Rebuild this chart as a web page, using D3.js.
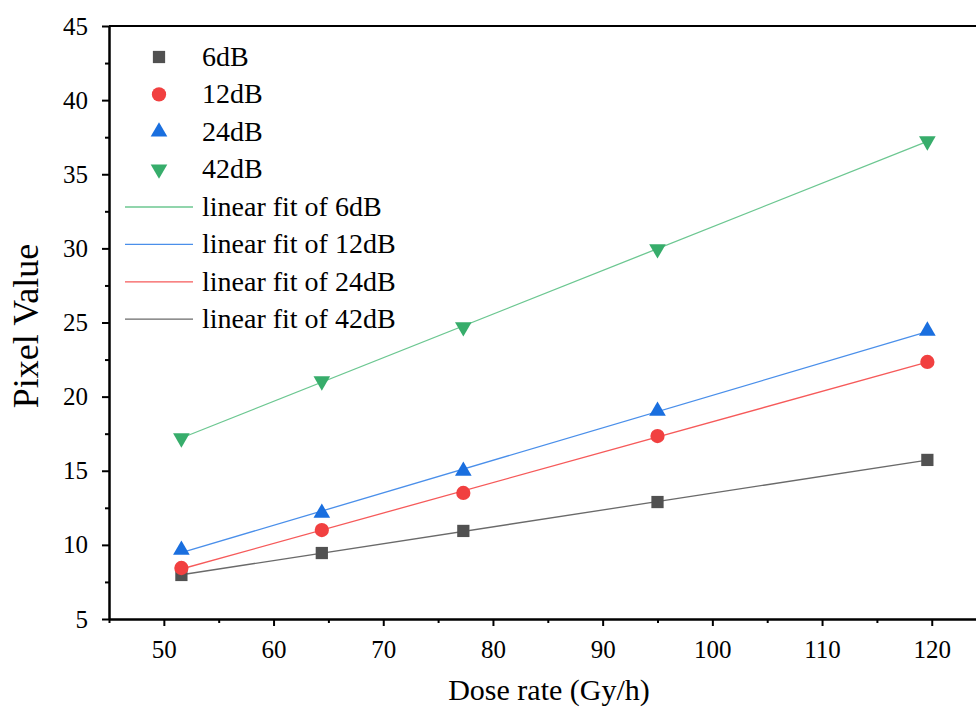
<!DOCTYPE html>
<html>
<head>
<meta charset="utf-8">
<script src="https://cdn.jsdelivr.net/npm/d3@7"></script>
<style>
  body { margin: 0; background: #fff; }
  svg { display: block; }
  svg text { font-family: "Liberation Serif", "Times New Roman", serif !important; }
</style>
</head>
<body>
<svg width="976" height="708"></svg>
<script>
// dose rate values (x) shared by every series
var doseRate = [51.6, 64.4, 77.3, 95.0, 119.6];

// pixel values
var db6  = [7.97, 9.45, 10.94, 12.89, 15.73];
var db12 = [8.44, 11.0, 13.5, 17.34, 22.34];
var db24 = [9.65, 12.15, 14.98, 19.03, 24.43];
var db42 = [17.2, 21.05, 24.7, 29.96, 37.24];

var seriesNames = ["6dB", "12dB", "24dB", "42dB"];
var fitNames = ["linear fit of 6dB", "linear fit of 12dB", "linear fit of 24dB", "linear fit of 42dB"];
var xTicks = [50, 60, 70, 80, 90, 100, 110, 120];
var yTicks = [5, 10, 15, 20, 25, 30, 35, 40, 45];

var app = {};

app.main = (function(){

  var colors = ["#515151", "#F14040", "#1A6FDF", "#37AD6B"];
  // fit line colours in legend order (the "6dB" fit label is green, etc.)
  var fitColors = ["#6cc791", "#4a8fea", "#f65a5a", "#6a6a6a"];

  function draw(){
    var svg = d3.select("svg");
    var left = 109, top = 26, bottom = 619;

    var x = d3.scaleLinear().domain([45, 125]).range([left, left + 80 * 10.97]);
    var y = d3.scaleLinear().domain([5, 45]).range([bottom, top]);

    var series = [db6, db12, db24, db42];
    var shapes = [d3.symbolSquare, d3.symbolCircle, d3.symbolTriangle, d3.symbolTriangle];
    var sizes = [150, 160, 120, 120];

    // axes, minor ticks in their own groups
    var xMinor = d3.axisBottom(x).tickValues([45, 55, 65, 75, 85, 95, 105, 115])
      .tickSize(4).tickFormat("").tickSizeOuter(0);
    var yMinor = d3.axisLeft(y).tickValues(d3.range(7.5, 45, 5)).tickSize(4).tickFormat("").tickSizeOuter(0);
    var xAxis = d3.axisBottom(x).tickValues(xTicks).tickSize(7).tickSizeOuter(0);
    var yAxis = d3.axisLeft(y).tickValues(yTicks).tickSize(7).tickSizeOuter(0);

    svg.append("g").attr("transform", "translate(0," + bottom + ")").call(xMinor);
    svg.append("g").attr("transform", "translate(" + left + ",0)").call(yMinor);
    var gx = svg.append("g").attr("transform", "translate(0," + bottom + ")").call(xAxis);
    var gy = svg.append("g").attr("transform", "translate(" + left + ",0)").call(yAxis);

    svg.selectAll(".domain").attr("stroke", "#000").attr("stroke-width", 2);
    svg.selectAll(".tick line").attr("stroke", "#000").attr("stroke-width", 2);
    gx.attr("font-family", null).attr("font-size", 25);
    gy.attr("font-family", null).attr("font-size", 25);
    gx.selectAll(".tick text").attr("fill", "#000").attr("y", 21);
    gy.selectAll(".tick text").attr("fill", "#000").attr("x", -21);

    // top frame line
    svg.append("line").attr("x1", left).attr("x2", 976).attr("y1", top).attr("y2", top)
      .attr("stroke", "#000").attr("stroke-width", 2);

    // axis titles
    svg.append("text").attr("x", 549).attr("y", 700).attr("text-anchor", "middle")
      .attr("font-size", 30).text("Dose rate (Gy/h)");
    svg.append("text").attr("transform", "translate(38,326) rotate(-90)").attr("text-anchor", "middle")
      .attr("font-size", 36).text("Pixel Value");

    // linear fits (least squares on each series)
    var line = d3.line().x(function(d){ return x(d[0]); }).y(function(d){ return y(d[1]); });
    series.forEach(function(vals, i){
      var mx = d3.mean(doseRate), my = d3.mean(vals);
      var slope = d3.sum(doseRate, function(d, j){ return (d - mx) * (vals[j] - my); }) /
                  d3.sum(doseRate, function(d){ return (d - mx) * (d - mx); });
      var icpt = my - slope * mx;
      var x0 = d3.min(doseRate), x1 = d3.max(doseRate);
      svg.append("path").datum([[x0, icpt + slope * x0], [x1, icpt + slope * x1]])
        .attr("d", line).attr("fill", "none").attr("stroke", fitColors[3 - i]).attr("stroke-width", 1.3);
    });

    // markers
    series.forEach(function(vals, i){
      svg.append("g").selectAll("path").data(vals).enter().append("path")
        .attr("d", d3.symbol().type(shapes[i]).size(sizes[i]))
        .attr("transform", function(d, j){
          return "translate(" + x(doseRate[j]) + "," + y(d) + ")" + (i === 3 ? " rotate(180)" : "");
        })
        .attr("fill", colors[i]);
    });

    // legend
    var lg = svg.append("g").attr("font-size", 28);
    seriesNames.forEach(function(name, i){
      var yy = 57 + i * 37.4;
      lg.append("path").attr("d", d3.symbol().type(shapes[i]).size(sizes[i])())
        .attr("transform", "translate(159," + yy + ")" + (i === 3 ? " rotate(180)" : ""))
        .attr("fill", colors[i]);
      lg.append("text").attr("x", 202).attr("y", yy + 9).text(name);
    });
    fitNames.forEach(function(name, i){
      var yy = 207 + i * 37.4;
      lg.append("line").attr("x1", 125).attr("x2", 193).attr("y1", yy).attr("y2", yy)
        .attr("stroke", fitColors[i]).attr("stroke-width", 1.3);
      lg.append("text").attr("x", 202).attr("y", yy + 9).text(name);
    });
  }

  var init = function(){
    draw();
  };

  return { init: init };
})();

window.addEventListener('DOMContentLoaded', app.main.init);
</script>
</body>
</html>
